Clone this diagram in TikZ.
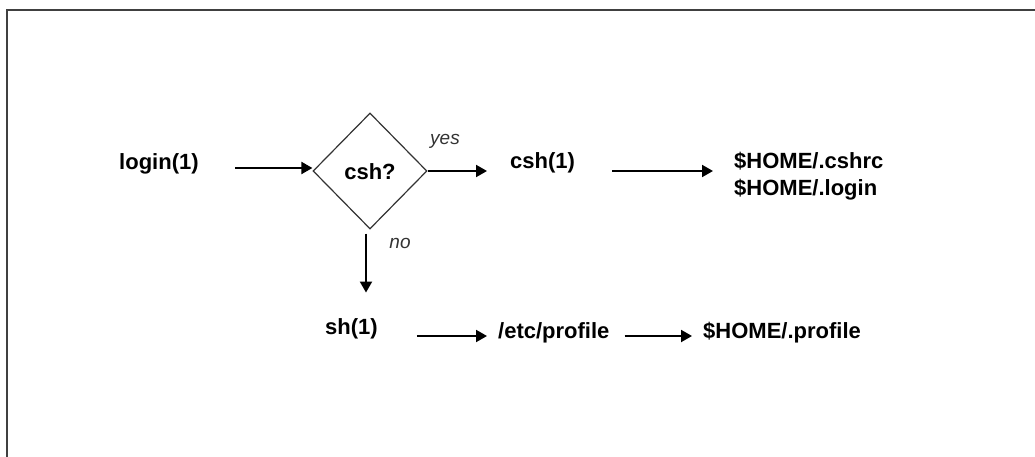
\documentclass[tikz,border=0pt]{standalone}
\usepackage{fontspec}
\setmainfont{Liberation Sans}
\usetikzlibrary{shapes.geometric,arrows.meta}
\begin{document}
\begin{tikzpicture}[x=1pt,y=-1pt,
  lbl/.style={font=\fontsize{22}{27}\selectfont\bfseries, inner sep=0pt, anchor=west},
  cond/.style={font=\fontsize{19}{22}\selectfont\itshape, text=black!80, inner sep=0pt},
  arr/.style={line width=2pt, -{Triangle[length=11pt,width=12pt]}},
  dia/.style={diamond, draw=black!80, line width=1.2pt, minimum width=114pt, minimum height=116pt, inner sep=0pt, aspect=1},
  frame/.style={draw=black!75, line width=2.8pt}]
\useasboundingbox (0,0) rectangle (1035,457);
\draw[frame] (1040,10) -- (7,10) -- (7,465);

\node[lbl] (login) at (119,164) {login(1)};
\node[dia] (d) at (370,171) {};
\node[font=\fontsize{22}{27}\selectfont\bfseries, inner sep=0pt] (q) at (370,172) {csh?};
\node[cond] (yes) at (445,141) {yes};
\node[lbl] (csh1) at (510,163) {csh(1)};
\node[lbl, align=left] (home1) at (734,176) {\$HOME/.cshrc\\\$HOME/.login};
\node[cond] (no) at (400,243) {no};
\node[lbl] (sh1) at (325,329) {sh(1)};
\node[lbl] (etc) at (498,333) {/etc/profile};
\node[lbl] (home2) at (703,333) {\$HOME/.profile};

\draw[arr] ([xshift=-77pt,yshift=3pt]d.west) -- ([yshift=3pt]d.west);
\draw[arr, shorten >=23pt] (d.east) -- (d.east -| csh1.west);
\draw[arr, shorten <=37pt, shorten >=21pt] (csh1.east |- d.east) -- (home1.west |- d.east);
\draw[arr, shorten <=4pt, shorten >=26pt] ([xshift=-4pt]d.south) -- ([xshift=-4pt]d.south |- sh1.north);
\draw[arr, shorten <=39pt, shorten >=11pt] ([yshift=-7pt]sh1.east) -- ([yshift=-7pt]sh1.east -| etc.west);
\draw[arr, shorten <=15pt, shorten >=11pt] ([yshift=-3pt]etc.east) -- ([yshift=-3pt]etc.east -| home2.west);
\end{tikzpicture}
\end{document}
